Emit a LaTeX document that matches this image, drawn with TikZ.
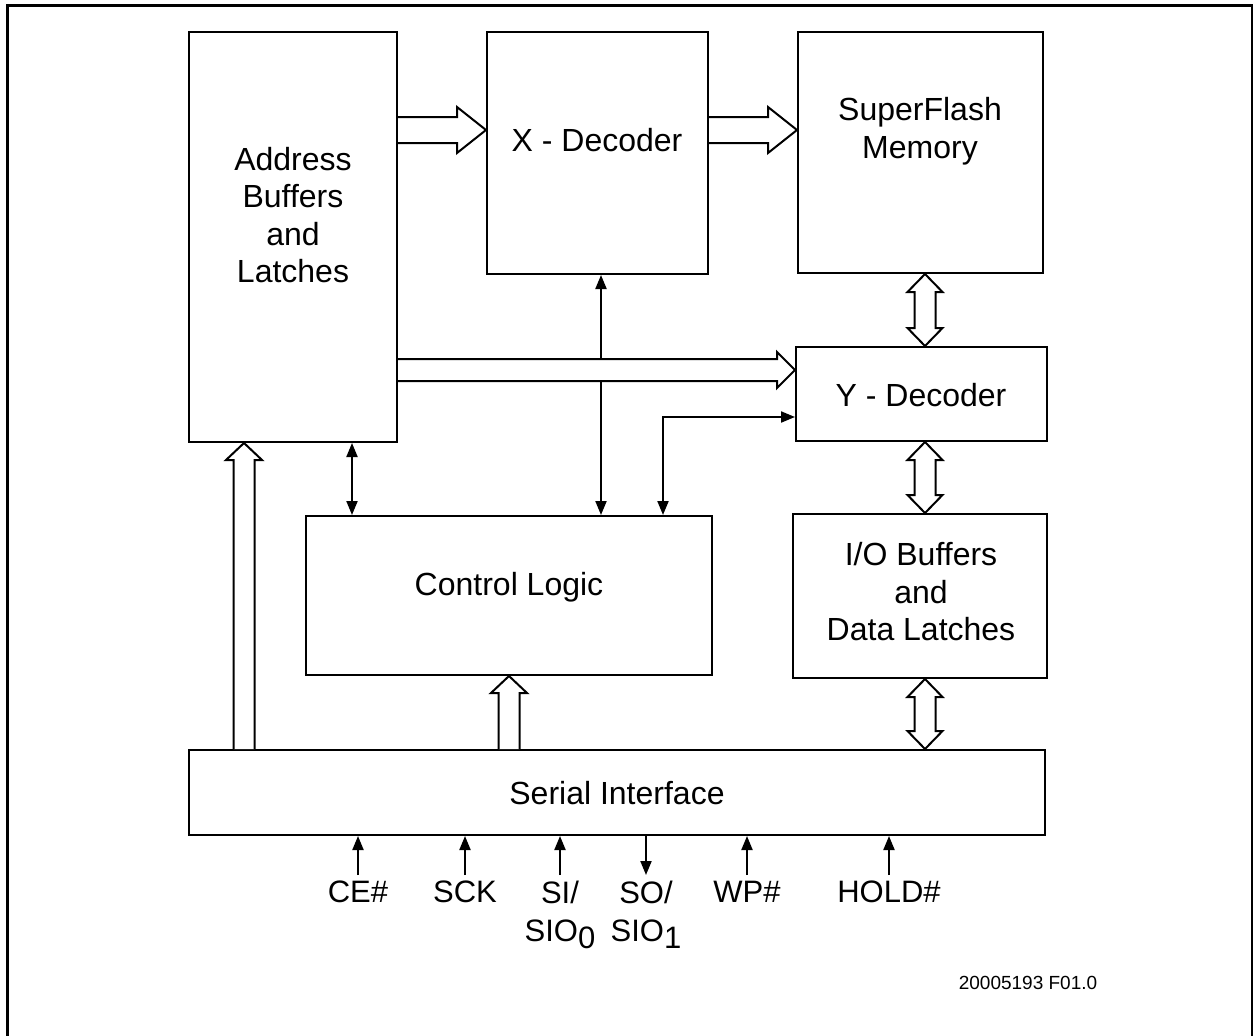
\documentclass[tikz,border=0pt]{standalone}
\usepackage{fontspec}
\setmainfont{Liberation Sans}
\usetikzlibrary{arrows.meta,calc}

\tikzset{
  blk/.style={draw, line width=2pt, inner sep=0pt},
  lbl/.style={align=center, font=\fontsize{32}{37.5}\selectfont},
  pinlbl/.style={align=center, anchor=north, inner sep=0pt, font=\fontsize{31}{38}\selectfont},
  sig/.style={line width=2pt},
  bus/.style={draw, fill=white, line width=2pt, line join=miter},
}

\begin{document}
\begin{tikzpicture}[x=1pt,y=-1pt,>={Triangle[length=14pt,width=11pt]}]
  \useasboundingbox (0,0) rectangle (1253,1036);

  % frame
  \draw[line width=3pt] (7,1045) -- (7,5) -- (1252,5) -- (1252,1045);

  % blocks
  \node[blk, minimum width=208, minimum height=410] (addr) at (293,237) {};
  \node[blk, minimum width=221, minimum height=242] (xdec) at (597.5,153) {};
  \node[blk, minimum width=245, minimum height=241] (mem) at (920.5,152.5) {};
  \node[blk, minimum width=251, minimum height=94] (ydec) at (921.5,394) {};
  \node[blk, minimum width=406, minimum height=159] (ctrl) at (509,595.5) {};
  \node[blk, minimum width=254, minimum height=164] (iobuf) at (920,596) {};
  \node[blk, minimum width=856, minimum height=85] (serial) at (617,792.5) {};

  \node[lbl] (addrtxt) at (293,215) {Address\\Buffers\\and\\Latches};
  \node[lbl] (xdectxt) at (597,140) {X - Decoder};
  \node[lbl] (memtxt) at (920,131) {SuperFlash\\Memory};
  \node[lbl] (ydectxt) at (921,395) {Y - Decoder};
  \node[lbl] (ctrltxt) at (509,587) {Control Logic};
  \node[lbl] (iobuftxt) at (921,592) {I/O Buffers\\and\\Data Latches};
  \node[lbl] (serialtxt) at (617,793) {Serial Interface};

  % control lines
  \draw[sig,<->] (xdec.south -| 601,0) -- (ctrl.north -| 601,0);
  \draw[sig,<->] (ctrl.north -| 663,0) |- (ydec.west |- 0,417);
  \draw[sig,<->] (addr.south -| 352,0) -- (ctrl.north -| 352,0);

  % address buses
  \foreach \src/\dst in {addr/xdec, xdec/mem}{
    \coordinate (tl) at (\src.east |- 0,130);
    \coordinate (tp) at (\dst.west |- 0,130);
    \draw[bus] ([yshift=13pt]tl) -- ([shift={(-29,-13)}]tp) -- ++(0,-10) -- (tp)
      -- ([shift={(-29,23)}]tp) -- ++(0,-10) -- ([yshift=-13pt]tl);
  }
  \coordinate (tl) at (addr.east |- 0,370);
  \coordinate (tp) at (ydec.west |- 0,370);
  \draw[bus] ([yshift=11pt]tl) -- ([shift={(-18,-11)}]tp) -- ++(0,-7) -- (tp)
    -- ([shift={(-18,18)}]tp) -- ++(0,-7) -- ([yshift=-11pt]tl);

  % buses out of the serial interface
  \foreach \dst/\x in {addr/244, ctrl/509}{
    \coordinate (tl) at (serial.north -| \x,0);
    \coordinate (tp) at (\dst.south -| \x,0);
    \draw[bus] ([xshift=-10.5pt]tl) -- ([shift={(-10.5,17)}]tp) -- ++(-7.5,0) -- (tp)
      -- ([shift={(18,17)}]tp) -- ++(-7.5,0) -- ([xshift=10.5pt]tl);
  }

  % data buses
  \foreach \a/\b in {mem/ydec, ydec/iobuf, iobuf/serial}{
    \coordinate (tt) at (\a.south -| 925,0);
    \coordinate (bb) at (\b.north -| 925,0);
    \draw[bus] (tt) -- ++(17.5,18) -- ++(-7,0) -- ([shift={(10.5,-18)}]bb) -- ++(7,0) -- (bb)
      -- ++(-17.5,-18) -- ++(7,0) -- ([shift={(-10.5,18)}]tt) -- ++(-7,0) -- cycle;
  }

  % pins
  \foreach \x/\nm in {358/ce,465/sck,560/si,646/so,747/wp,889/hold}
    \coordinate (\nm) at (\x,875);
  \foreach \nm in {ce,sck,si,wp,hold}
    \draw[sig,->] (\nm) -- (serial.south -| \nm);
  \draw[sig,->] (serial.south -| so) -- (so);

  \node[pinlbl] (celbl) at ([yshift=-6pt]ce) {CE\#};
  \node[pinlbl] (scklbl) at ([yshift=-6pt]sck) {SCK};
  \node[pinlbl] (silbl) at ([yshift=-6pt]si) {SI/\\SIO\raisebox{-7pt}{0}};
  \node[pinlbl] (solbl) at ([yshift=-6pt]so) {SO/\\SIO\raisebox{-7pt}{1}};
  \node[pinlbl] (wplbl) at ([yshift=-6pt]wp) {WP\#};
  \node[pinlbl] (holdlbl) at ([yshift=-6pt]hold) {HOLD\#};

  \node[font=\fontsize{19}{22}\selectfont] (figid) at (1028,983) {20005193 F01.0};

\end{tikzpicture}
\end{document}
